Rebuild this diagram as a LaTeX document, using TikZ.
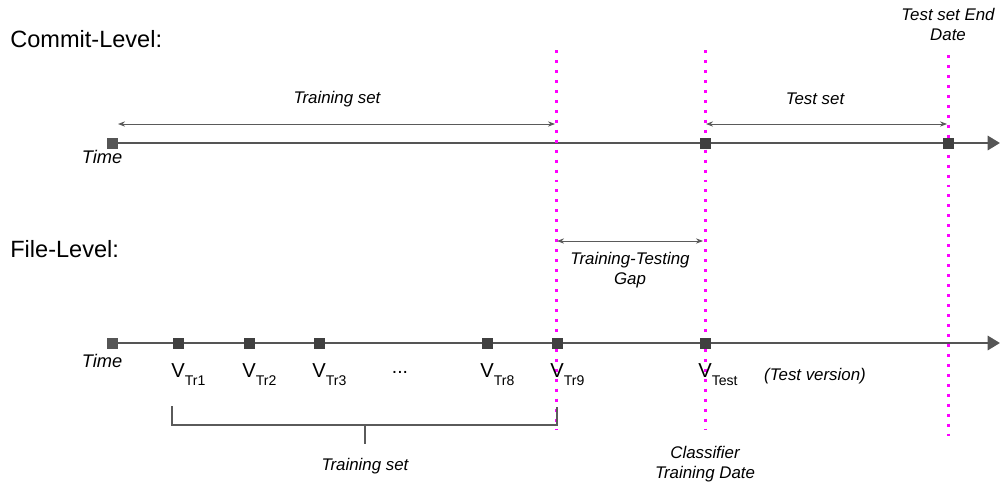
\documentclass[tikz,border=0pt]{standalone}
\usepackage{fontspec}
\setmainfont{Liberation Sans}
\usepackage{tikz}
\usetikzlibrary{arrows.meta, positioning, backgrounds}
\definecolor{axisgray}{HTML}{555555}
\definecolor{boxgray}{HTML}{404040}
\definecolor{spangray}{HTML}{5A5A5A}
\definecolor{cutmag}{RGB}{255,0,255}

\tikzset{
    sq/.style={fill=boxgray, minimum size=0.22cm, inner sep=0pt},
    sqstart/.style={sq, fill=axisgray},
    timeline/.style={draw=axisgray, line width=1.6pt, -{Triangle[length=7pt, width=8pt]}},
    span/.style={draw=spangray, line width=0.5pt, {Stealth[length=4pt, width=3pt]}-{Stealth[length=4pt, width=3pt]}},
    cutoff/.style={draw=cutmag, line width=1.7pt, dash pattern=on 1.7pt off 3.97pt},
    bracket/.style={draw=spangray, line width=0.7pt},
    lbl/.style={font=\itshape\fontsize{9.6}{11.4}\selectfont, align=center, inner sep=0pt},
    title/.style={font=\fontsize{13.4}{16}\selectfont, anchor=base west, inner sep=0pt},
    vlab/.style={font=\fontsize{11.5}{13}\selectfont, anchor=north west, inner sep=0pt}
}

\begin{document}
\begin{tikzpicture}[x=0.02cm, y=-0.02cm]
    \useasboundingbox (0,0) rectangle (1000,487);

    % Titles
    \node[title] (commit) at (10,47) {Commit-Level:};
    \node[title] (file) at (10,257) {File-Level:};

    % Commit-level timeline
    \node[sqstart] (c0) at (112,143) {};
    \node[sq] (ctrain) at (705,143) {};
    \node[sq] (cend) at (948,143) {};
    \coordinate (ctip) at (1000,143);
    \node[lbl, font=\itshape\fontsize{10.4}{12}\selectfont] (ctime) at (102,157) {Time};

    % File-level timeline
    \node[sqstart] (f0) at (112,343) {};
    \foreach \n/\x in {1/178, 2/249, 3/319, 8/487, 9/557} {
        \node[sq] (v\n) at (\x,343) {};
        \node[vlab] (lv\n) at ([shift={(-7,20)}]v\n.center) {V\raisebox{-4.6pt}{\fontsize{8}{9}\selectfont Tr\n}};
    }
    \node[sq] (vt) at (705,343) {};
    \node[vlab] (lvt) at ([shift={(-7,20)}]vt.center) {V\raisebox{-4.6pt}{\fontsize{8}{9}\selectfont Test}};
    \coordinate (ftip) at (1000,343);
    \node[lbl, font=\itshape\fontsize{10.4}{12}\selectfont] (ftime) at (102,361) {Time};
    \node[font=\fontsize{11}{13}\selectfont] (dots) at (400,372) {...};
    \node[lbl] (testver) at (815,376) {(Test version)};

    % Cut-off dates
    \coordinate (cutA-top) at (556,50); \coordinate (cutA-bot) at (556,430);
    \coordinate (cutB-top) at (705,50); \coordinate (cutB-bot) at (705,430);
    \coordinate (cutC-top) at (948,55); \coordinate (cutC-bot) at (948,436);

    % Axes and cut-offs behind the squares
    \begin{scope}[on background layer]
        \draw[timeline] (c0.center) -- (ctip);
        \draw[timeline] (f0.center) -- (ftip);
        \draw[cutoff] (cutA-top) -- (cutA-bot);
        \draw[cutoff] (cutB-top) -- (cutB-bot);
        \draw[cutoff] (cutC-top) -- (cutC-bot);
    \end{scope}

    % Spans
    \coordinate (trS) at (118,124); \coordinate (trE) at (555,124);
    \coordinate (teS) at (706,124); \coordinate (teE) at (947,124);
    \coordinate (gapS) at (557,241); \coordinate (gapE) at (703,241);
    \draw[span] (trS) -- (trE); \node[lbl] (trainset) at (337,99) {Training set};
    \draw[span] (teS) -- (teE); \node[lbl] (testset) at (815,99) {Test set};
    \draw[span] (gapS) -- (gapE); \node[lbl] (gap) at (630,270) {Training-Testing\\Gap};
    \node[lbl] (enddate) at (948,24) {Test set End\\Date};
    \node[lbl] (clsdate) at (705,464) {Classifier\\Training Date};

    % Training versions bracket
    \draw[bracket] (172,406) -- (172,425) -- (557,425) -- (557,407);
    \draw[bracket] (365,425) -- (365,444);
    \node[lbl] (ftrain) at (365,466) {Training set};
\end{tikzpicture}
\end{document}
